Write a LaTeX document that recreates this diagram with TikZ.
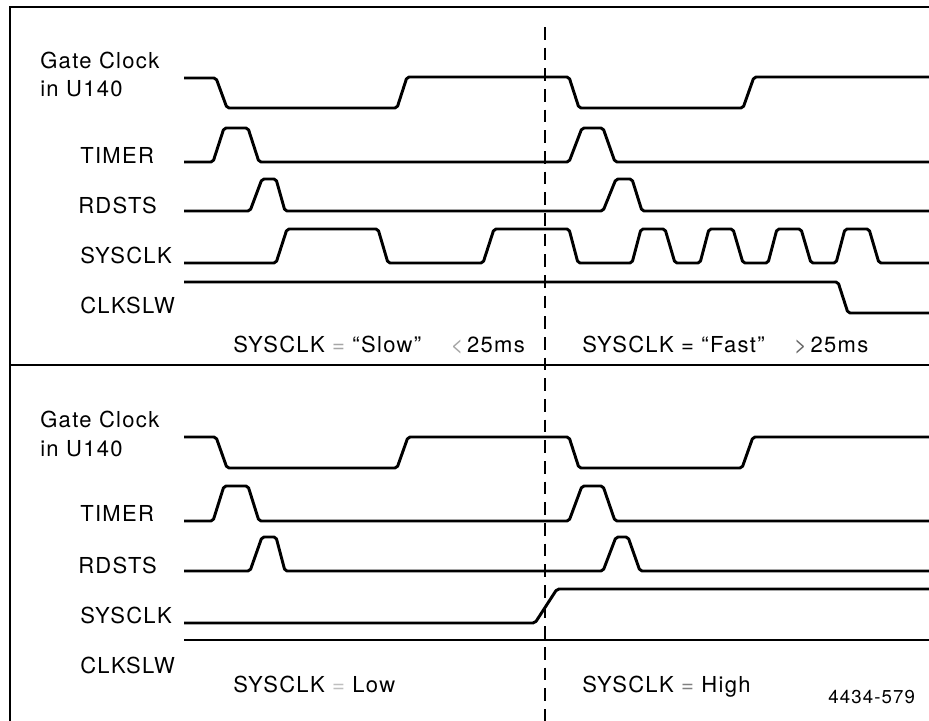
\documentclass[tikz,border=0pt]{standalone}
\usepackage{fontspec}
\setmainfont[LetterSpace=6]{TeX Gyre Heros}
\usetikzlibrary{positioning}

\begin{document}
\begin{tikzpicture}[x=0.75pt, y=-0.75pt,
		wave/.style={line width=2.2pt, line join=round, rounded corners=1.5pt},
		frame/.style={line width=1pt},
		marker/.style={line width=1.1pt, dash pattern=on 9.5pt off 6pt},
		lab/.style={anchor=base west, inner sep=0pt, font=\fontsize{16.5}{19}\selectfont},
		note/.style={anchor=base west, inner sep=0pt, font=\fontsize{14}{16}\selectfont}]

		\useasboundingbox (0,0) rectangle (929,721);

		% ── Frame ──
		\draw[frame] (929,7) -- (10,7) -- (10,721);
		\draw[frame, line width=1.3pt] (10,365) -- (929,365);

		% ── Upper panel: labels ──
		\node[lab] (gate1) at (40,68) {Gate Clock};
		\node[lab] (unit1) at (40,96) {in U140};
		\node[lab] (timer1) at (80,163) {TIMER};
		\node[lab] (rdsts1) at (78,213) {RDSTS};
		\node[lab] (sysclk1) at (80,263) {SYSCLK};
		\node[lab] (clkslw1) at (80,313) {CLKSLW};

		% ── Upper panel: traces ──
		\draw[wave] (184,78) -- (216,78) -- (227,108) -- (397,108) -- (407,77)
			-- (569,77) -- (579,108) -- (743,108) -- (754,77) -- (929,77);
		\draw[wave] (184,162) -- (213,162) -- (224,128) -- (248,128) -- (259,162)
			-- (569,162) -- (582,128) -- (603,128) -- (615,162) -- (929,162);
		\draw[wave] (184,211) -- (250,211) -- (262,179) -- (276,179) -- (285,211)
			-- (603,211) -- (616,179) -- (632,179) -- (642,211) -- (929,211);
		\draw[wave] (184,263) -- (276,263) -- (287,229) -- (378,229) -- (388,263)
			-- (483,263) -- (494,229) -- (569,229) -- (578,263)
			\foreach \s in {632,700,768,836}{ -- (\s,263) -- ++(9,-34) -- ++(24,0) -- ++(10,34)}
			-- (929,263);
		\draw[wave] (184,282) -- (838,282) -- (848,313) -- (929,313);

		% ── Upper panel: captions ──
		\node[lab] (slow) at (233,352) {SYSCLK \textcolor{black!35}{=} “Slow” \quad\textcolor{black!35}{<}\,25ms};
		\node[lab] (fast) at (582,352) {SYSCLK = “Fast” \quad\textcolor{black!60}{>}\,25ms};

		% ── Lower panel: labels ──
		\node[lab] (gate2) at (40,427) {Gate Clock};
		\node[lab] (unit2) at (40,456) {in U140};
		\node[lab] (timer2) at (80,521) {TIMER};
		\node[lab] (rdsts2) at (78,573) {RDSTS};
		\node[lab] (sysclk2) at (80,623) {SYSCLK};
		\node[lab] (clkslw2) at (80,673) {CLKSLW};

		% ── Lower panel: traces ──
		\draw[wave] (184,437) -- (216,437) -- (227,468) -- (397,468) -- (408,437)
			-- (569,437) -- (579,468) -- (742,468) -- (753,437) -- (929,437);
		\draw[wave] (184,521) -- (213,521) -- (224,486) -- (248,486) -- (259,521)
			-- (569,521) -- (582,486) -- (603,486) -- (615,521) -- (929,521);
		\draw[wave] (184,571) -- (250,571) -- (262,537) -- (276,537) -- (285,571)
			-- (603,571) -- (616,537) -- (628,537) -- (640,571) -- (929,571);
		\draw[wave] (184,623) -- (535,623) -- (557,589) -- (929,589);
		\draw[wave] (184,640) -- (929,640);

		% ── Lower panel: captions ──
		\node[lab] (low) at (233,692) {SYSCLK \textcolor{black!25}{=} Low};
		\node[lab] (high) at (582,692) {SYSCLK \textcolor{black!50}{=} High};
		\node[note] (fig) at (828,703) {4434-579};

		% ── Time marker ──
		\draw[marker] (545,27) -- (545,721);

	\end{tikzpicture}
\end{document}
